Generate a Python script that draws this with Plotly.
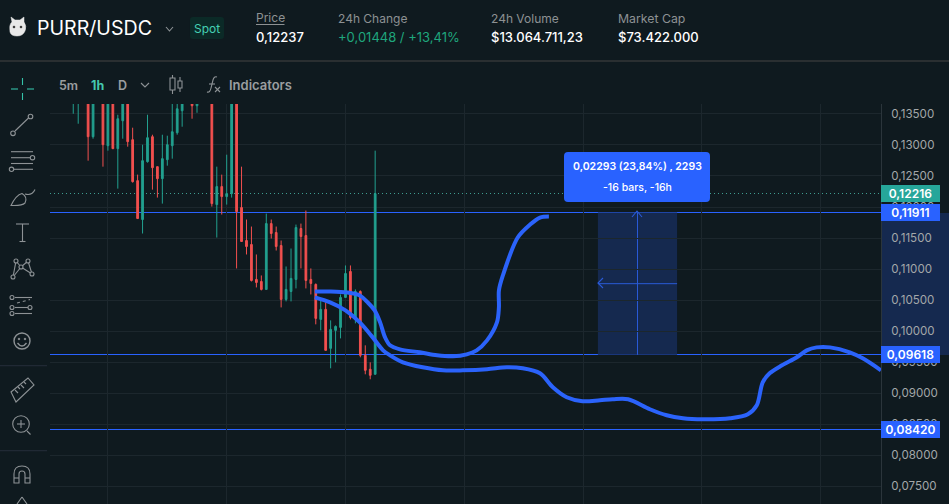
import plotly.graph_objects as go

# ---------- data (prices) ----------
bar_index = list(range(62))
open_ = [.1372,.1372,None,.139,.13133,None,.138,.12988,.138,.12940,.13390,.138,.13085,.12425,.11798,.12731,.13133,.12650,.12457,.12763,.12988,.13197,.13551,None,.138,.13632,None,None,.138,.12039,.12329,.12168,.12216,.138,.11991,.11460,.11396,.10833,.10800,.10672,.11733,.11589,.11380,.10511,.10639,.10833,.11653,.11540,.10833,.10752,.10189,.10350,.09722,.10012,.10060,.10543,.10961,.10221,.10639,.09610,.09385,.09304]
high_ = [.139,.139,None,.1395,.139,None,.139,.139,.139,.13487,.139,.139,.13278,.12522,.13004,.13487,.13165,.12650,.13165,.13149,.138,.137,.139,None,.139,.139,None,None,.139,.12650,.12522,.12843,.139,.139,.12650,.11798,.11685,.11235,.10897,.11894,.11798,.11685,.11460,.11042,.11331,.11717,.11733,.11943,.11010,.10768,.10511,.10462,.10173,.10092,.10591,.11058,.11058,.10672,.10656,.09771,.09497,.12908]
low_ = [.13503,.13342,None,.12747,.13101,None,.12650,.12908,.12940,.12296,.13101,.12972,.12393,.11814,.11573,.12715,.12280,.12152,.12055,.12666,.12779,.13165,.13294,None,.13423,.13519,None,None,.12007,.11508,.11878,.12039,.12152,.11010,.11444,.11235,.10800,.10704,.10656,.10672,.11492,.11299,.10382,.10479,.10479,.10688,.11010,.10688,.10591,.10109,.10012,.09690,.09401,.09497,.09883,.10543,.10189,.10125,.09578,.09304,.09224,.09304]
close_ = [.138,.138,None,.13133,.138,None,.13004,.138,.12940,.13423,.138,.13053,.12409,.11814,.12747,.13117,.12634,.12457,.12779,.13004,.13213,.13583,.138,None,.13632,.138,None,None,.12055,.12329,.12168,.12216,.138,.11926,.11444,.11363,.10816,.10784,.10672,.11733,.11573,.11363,.10511,.10672,.10849,.11669,.11524,.10816,.10768,.10205,.10350,.09690,.10028,.10076,.10543,.10929,.10221,.10639,.09610,.09368,.09288,.12216]

stroke_a_x = [48.8,51.9,55.3,57.9,59.5,60.9,62.0,63.0,64.0,66.0,70.0,73.5,76.7,79.5,81.5,83.6,85.6,86.0,86.0,86.8,89.8,92.3,94.3,96.1]
stroke_a_y = [.10639,.10639,.10623,.10575,.10462,.10334,.10141,.09899,.09771,.09706,.09658,.09610,.09594,.09626,.09690,.09851,.10141,.10382,.10655,.10897,.11508,.11717,.11830,.11846]
stroke_b_x = [48.8,51.9,55.0,57.9,60.5,62.6,64.0,66.6,70.6,74.7,78.7,83.6,87.6,90.8,94.3,96.9,99.7,102.9,106.4,109.0,112.1,116.5,119.9,123.2,127.2,132.7,136.3,138.1,139.3,140.7,143.2,146.2,148.2,150.2,152.9,156.9,159.5,163.2]
stroke_b_y = [.10543,.10462,.10334,.10141,.09899,.09690,.09610,.09497,.09417,.09368,.09368,.09385,.09417,.09401,.09320,.09095,.08934,.08870,.08886,.08902,.08902,.08741,.08644,.08596,.08580,.08596,.08660,.08805,.09175,.09320,.09449,.09578,.09690,.09738,.09738,.09658,.09561,.09368]

price_ticks = [.135,.13,.125,.12,.115,.11,.105,.1,.095,.09,.085,.08,.075]
price_labels = ["0,13500","0,13000","0,12500","0,12000","0,11500","0,11000","0,10500","0,10000","0,09500","0,09000","0,08500","0,08000","0,07500"]
level_top, level_mid, level_low, level_last = .11911, .09618, .08420, .12216
measure_start, measure_end, measure_centre = 106, 122, 114
measure_text = ["0,02293 (23,84%) , 2293", "-16 bars, -16h"]

# ---------- style ----------
W, H = 949, 504
BG = "#0f1a1f"; GRID = "#1c272d"; BLUE = "#2962ff"; STROKE = "#2b63fb"
UP = "#22a08f"; DOWN = "#f2504f"; ICON = "#8d9295"; FONT = "Inter"
L, R, T = 50, 881, 104
def X(x): return x / W
def Y(y): return 1 - y / H

shapes, notes = [], []
def pth(d, color=ICON, width=1.1, fill=None, layer="above"):
    out = []
    for tok in d.split():
        if "," in tok:
            a, b = tok.split(",")
            out.append(f"{X(float(a)):.5f},{Y(float(b)):.5f}")
        else:
            out.append(tok)
    shapes.append(dict(type="path", xref="paper", yref="paper", path=" ".join(out),
                       line=dict(color=color, width=width), fillcolor=fill, layer=layer))
def seg(x0, y0, x1, y1, color=ICON, width=1.1, dash=None):
    shapes.append(dict(type="line", xref="paper", yref="paper", x0=X(x0), y0=Y(y0), x1=X(x1), y1=Y(y1),
                       line=dict(color=color, width=width, dash=dash), layer="above"))
def rect(x0, y0, x1, y1, fill, layer="above"):
    shapes.append(dict(type="rect", xref="paper", yref="paper", x0=X(x0), y0=Y(y0), x1=X(x1), y1=Y(y1),
                       fillcolor=fill, line=dict(width=0), layer=layer))
def circ(cx, cy, r, color=ICON, width=1.1, fill=None):
    shapes.append(dict(type="circle", xref="paper", yref="paper", x0=X(cx-r), y0=Y(cy+r), x1=X(cx+r), y1=Y(cy-r),
                       line=dict(color=color, width=width), fillcolor=fill, layer="above"))
def txt(x, y, s, size=12, color="#ffffff", weight=400, anchor="left"):
    x = x - 2 if anchor == "left" else x
    notes.append(dict(xref="paper", yref="paper", x=X(x), y=Y(y), text=s, showarrow=False, xanchor=anchor, yanchor="middle",
                      font=dict(family=FONT, size=size, color=color, weight=weight)))

# ---------- chart overlays tied to the price scale ----------
for lv in (level_top, level_mid, level_low):
    shapes.append(dict(type="line", xref="x domain", yref="y", x0=0, x1=1, y0=lv, y1=lv,
                       line=dict(color=BLUE, width=1), layer="below"))
shapes.append(dict(type="line", xref="x domain", yref="y", x0=0, x1=1, y0=level_last, y1=level_last,
                   line=dict(color="#3f9c90", width=1, dash="1px,3px"), layer="below"))
shapes.append(dict(type="rect", xref="x", yref="y", x0=measure_start, x1=measure_end, y0=level_mid, y1=level_top,
                   fillcolor="#15294f", line=dict(width=0), layer="below"))
shapes.append(dict(type="line", xref="x", yref="y", x0=measure_centre, x1=measure_centre, y0=level_mid, y1=level_top,
                   line=dict(color="#2a5bd8", width=1), layer="below"))
mid = (level_mid + level_top) / 2
shapes.append(dict(type="line", xref="x", yref="y", x0=measure_start, x1=measure_end, y0=mid, y1=mid,
                   line=dict(color="#2a5bd8", width=1), layer="below"))
shapes.append(dict(type="rect", xref="paper", yref="y", x0=X(R), x1=1, y0=level_mid, y1=level_top,
                   fillcolor="#15294f", line=dict(width=0), layer="below"))
pth("M 603,278 L 598,283 L 603,288", "#2a5bd8")
pth("M 632,217 L 637,211 L 642,217", "#2a5bd8")

# tooltip
pth("M 568,152 L 706,152 Q 710,152 710,156 L 710,198 Q 710,202 706,202 L 568,202 Q 564,202 564,198 L 564,156 Q 564,152 568,152 Z", BLUE, 0, BLUE)
txt(637.5, 167, measure_text[0], 10.5, "#ffffff", 600, "center")
txt(637.5, 187, measure_text[1], 10.5, "#ffffff", 500, "center")

# price tags
for lv, lab, col in ((level_last, "0,12216", "#26a69a"), (level_top, "0,11911", BLUE), (level_mid, "0,09618", BLUE), (level_low, "0,08420", BLUE)):
    notes.append(dict(xref="paper", yref="y", x=X(R), y=lv, text=lab, showarrow=False, xanchor="left", yanchor="middle",
                      width=59, height=17, bgcolor=col, borderpad=0, borderwidth=0, align="center",
                      font=dict(family=FONT, size=12, color="#ffffff", weight=600)))

# ---------- header ----------
rect(0, 0, W, 60, BG)
rect(0, 60, W, 62, "#2a2f31")
rect(0, 62, W, T, BG)
rect(0, T, L, H, BG)
# logo
pth("M 10,32 Q 9,24 12,22 L 11,17 L 15,20 L 20,20 L 24,17 L 24,22 Q 27,26 25,31 Q 23,36 17,36 Q 11,36 10,32 Z", "#e8e8e8", 0.5, "#e8e8e8")
circ(14, 27, 1, "#222", 0.5, "#222"); circ(21, 27, 1, "#222", 0.5, "#222")
txt(36.5, 28, "PURR/USDC", 19.6, "#ffffff", 400)
pth("M 166,27 L 169.5,31 L 173,27", ICON)
pth("M 193,17 L 221,17 Q 224,17 224,20 L 224,36 Q 224,39 221,39 L 193,39 Q 190,39 190,36 L 190,20 Q 190,17 193,17 Z", "#0b2a27", 0, "#0b2a27")
txt(207, 28, "Spot", 12, "#45d0b4", 400, "center")
txt(256, 18, "Price", 12, "#8d9193")
seg(256, 24.5, 284.5, 24.5, "#8d9193", 1)
txt(256, 37, "0,12237", 13, "#ffffff", 500)
txt(338, 18.5, "24h Change", 12, "#8d9193")
txt(338, 37, "+0,01448 / +13,41%", 13, "#1fa67d")
txt(491, 18.5, "24h Volume", 12, "#8d9193")
txt(491, 37, "$13.064.711,23", 13, "#ffffff", 500)
txt(618, 18.5, "Market Cap", 12.3, "#8d9193")
txt(618, 37, "$73.422.000", 13, "#ffffff", 500)
# toolbar
txt(59, 85, "5m", 12.5, "#9a9ea0", 600)
txt(91, 85, "1h", 12.5, "#45c8ae", 700)
txt(118, 85, "D", 12.5, "#9a9ea0", 600)
pth("M 141,83 L 145,87 L 149,83", ICON)
pth("M 170,78 L 175,78 L 175,90 L 170,90 Z", ICON)
pth("M 178,81 L 182,81 L 182,88 L 178,88 Z", ICON)
seg(172.5, 75, 172.5, 78); seg(172.5, 90, 172.5, 94); seg(180, 77, 180, 81); seg(180, 88, 180, 92)
pth("M 207,92 Q 210,93 211,88 L 213,80 Q 214,76 217,77", ICON)
seg(209, 84, 215, 84)
seg(215, 87, 220, 92); seg(220, 87, 215, 92)
txt(229, 85, "Indicators", 13, "#9a9ea0", 600)
# side bar
TEAL = "#35c2a8"
seg(11, 89, 18, 89, TEAL); seg(27, 89, 34, 89, TEAL); seg(22.5, 78, 22.5, 85, TEAL); seg(22.5, 93, 22.5, 100, TEAL)
seg(15, 131, 28.5, 118); circ(13, 133.3, 2.3); circ(30.5, 116.5, 2.3)
seg(11, 151.7, 33, 151.7); seg(11, 157.7, 30, 157.7); seg(11, 163.5, 33, 163.5); seg(14, 169.3, 33, 169.3)
circ(32.5, 157.7, 2.2); circ(11.5, 169.3, 2.2)
pth("M 11,205.5 Q 16,195 22,193.5 Q 28,197 25,203 Q 22,206 11,205.5 Z")
pth("M 25,194 Q 32,196 35,189.5")
seg(16, 224, 29, 224); seg(22.5, 224, 22.5, 241.5); seg(19.5, 241.5, 25.5, 241.5)
for a, b in (((13, 277), (16, 261)), ((16, 261), (21, 267)), ((21, 267), (28, 261)), ((28, 261), (32, 274)), ((13, 277), (21, 267)), ((21, 267), (32, 274))):
    seg(*a, *b)
for c in ((13, 277), (16, 261), (28, 261), (21, 267), (32, 274)):
    circ(*c, 2, ICON, 1.1, BG)
seg(15, 297.5, 32, 297.5); seg(15, 307.5, 28, 307.5); seg(15, 313.5, 32, 313.5)
seg(17, 303, 30, 299.5, ICON, 1.1, "dot")
circ(12, 297.5, 2); circ(12, 307.5, 2); circ(12, 313.5, 2); circ(30, 307.5, 2)
circ(22, 341, 8, ICON, 1.4); circ(19, 339, .8, ICON, 1, ICON); circ(25, 339, .8, ICON, 1, ICON)
pth("M 17.5,343 Q 22,349 26.5,343", ICON, 1.3)
seg(0, 365.7, 47, 365.7, "#252e3a", 1); seg(0, 450.7, 47, 450.7, "#252e3a", 1)
pth("M 11,392 L 28,378 L 34,385 L 16,402 Z")
for a, b in (((15, 390), (18, 393)), ((18, 387), (20, 389)), ((21, 385), (24, 388)), ((24, 382), (26, 384))):
    seg(*a, *b)
circ(21, 424, 8.3); seg(21, 420, 21, 428); seg(17, 424, 25, 424); seg(27, 431, 30.5, 434.5)
pth("M 14,483 L 14,474 Q 14,466 22,466 Q 30,466 30,474 L 30,483 L 25,483 L 25,474 Q 25,471 22,471 Q 19,471 19,474 L 19,483 Z")
seg(14, 478, 19, 478); seg(25, 478, 30, 478)
pth("M 22,497 L 17,504 M 22,497 L 27,504")

fig = go.Figure()
fig.add_trace(go.Scatter(x=stroke_a_x, y=stroke_a_y, mode="lines", line=dict(color=STROKE, width=4, shape="spline", smoothing=0.9), hoverinfo="skip"))
fig.add_trace(go.Scatter(x=stroke_b_x, y=stroke_b_y, mode="lines", line=dict(color=STROKE, width=4, shape="spline", smoothing=0.9), hoverinfo="skip"))
fig.add_trace(go.Candlestick(x=bar_index, open=open_, high=high_, low=low_, close=close_, whiskerwidth=0,
    increasing=dict(line=dict(color=UP, width=1), fillcolor=UP),
    decreasing=dict(line=dict(color=DOWN, width=1), fillcolor=DOWN), hoverinfo="skip"))

fig.update_layout(
    width=W, height=H, margin=dict(l=0, r=0, t=0, b=0), paper_bgcolor=BG, plot_bgcolor=BG,
    showlegend=False, boxgap=0.5, shapes=shapes, annotations=notes, hovermode=False,
    xaxis=dict(domain=[X(L), X(R)], range=[-4.7, 163.2], tick0=7, dtick=24, showgrid=True, gridcolor=GRID, gridwidth=1,
               zeroline=False, showticklabels=False, ticks="", rangeslider=dict(visible=False), showline=False),
    yaxis=dict(domain=[0, Y(T)], range=[.07214, .1366], side="right", tickmode="array", tickvals=price_ticks, ticktext=price_labels,
               showgrid=True, gridcolor=GRID, gridwidth=1, zeroline=False, showline=True, linecolor="#2b353b", linewidth=1,
               ticks="outside", ticklen=7, tickcolor="rgba(0,0,0,0)", tickfont=dict(family=FONT, size=11.6, color="#a3a7a9")),
)
fig.write_html("out.html", config={"displayModeBar": False},
               post_script="document.body.style.margin='0';document.body.style.background='#0f1a1f';document.documentElement.style.overflow='hidden';"
                           "document.head.insertAdjacentHTML('beforeend','<style>.layer-below .shapelayer path{shape-rendering:crispEdges !important}</style>');")
